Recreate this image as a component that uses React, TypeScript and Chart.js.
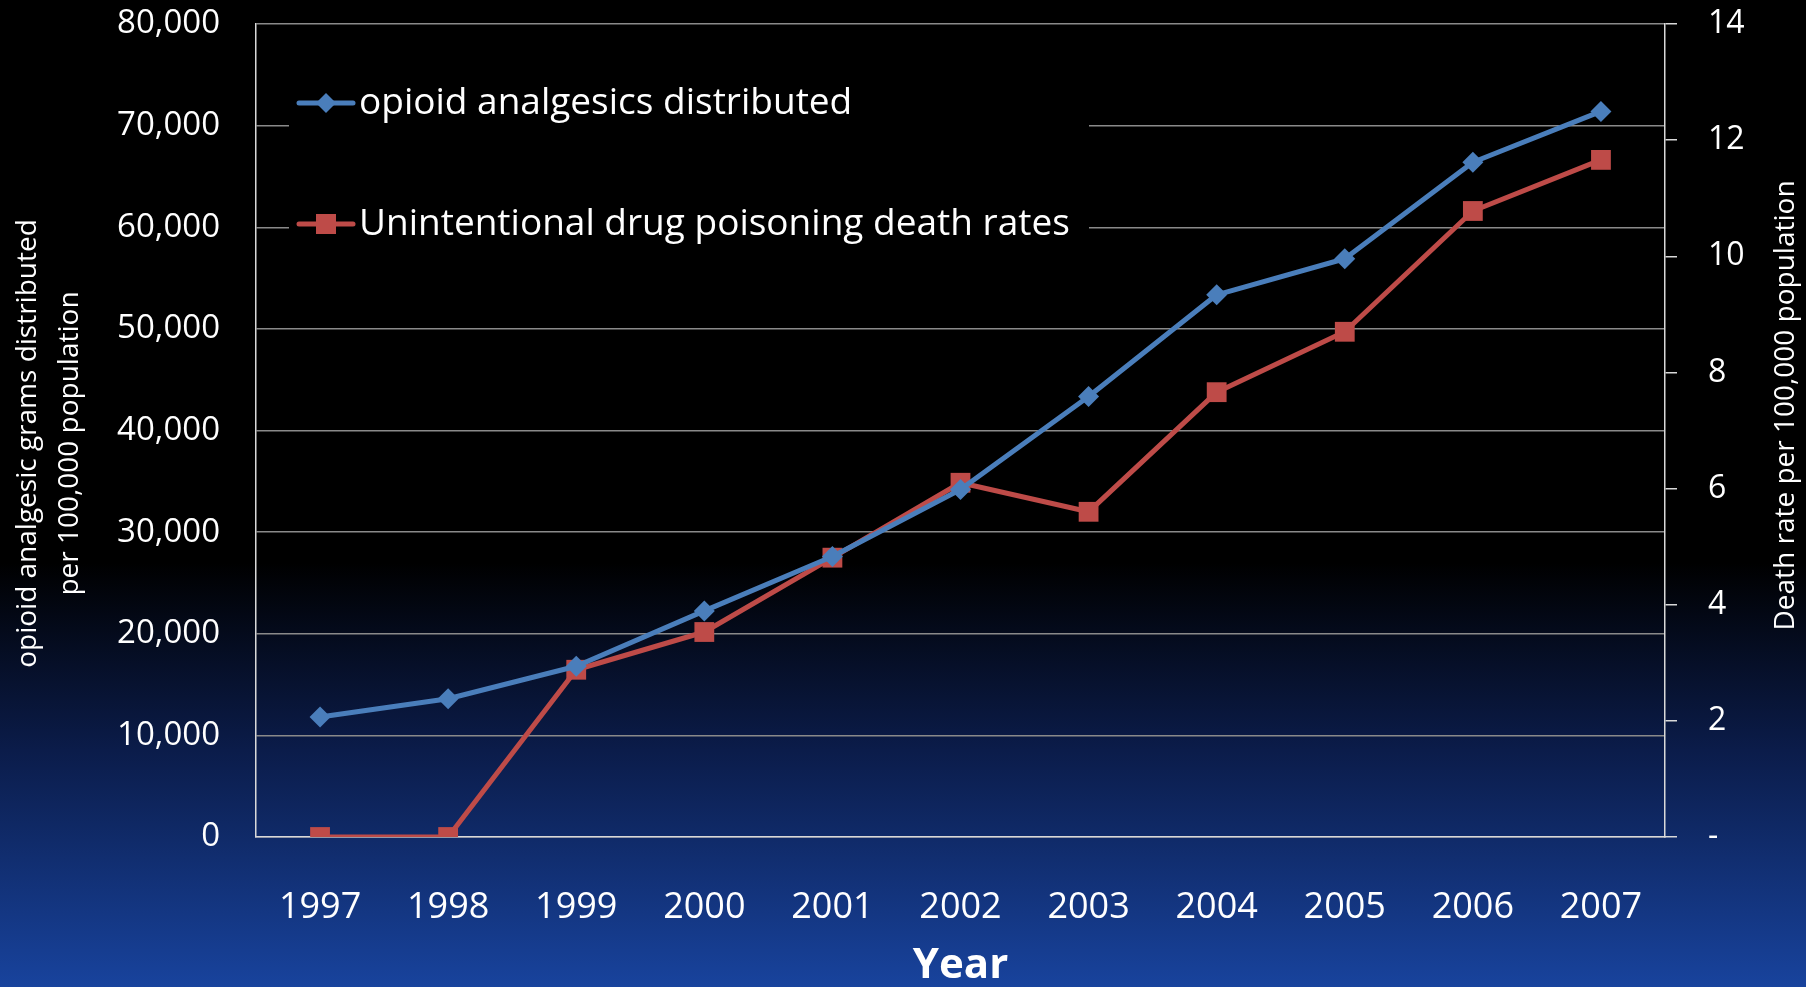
import React, { useEffect, useRef } from 'react';
import { Chart, registerables } from 'chart.js';

Chart.register(...registerables);

const years = ['1997', '1998', '1999', '2000', '2001', '2002', '2003', '2004', '2005', '2006', '2007'];
const opioidGrams = [11800, 13600, 16800, 22250, 27600, 34200, 43350, 53350, 56900, 66400, 71400];
const deathRates = [0, 0, 2.88, 3.53, 4.81, 6.1, 5.6, 7.66, 8.7, 10.78, 11.66];
const seriesNames = ['opioid analgesics distributed', 'Unintentional drug poisoning death rates'];
const leftAxisTitle = ['opioid analgesic grams distributed', 'per 100,000 population'];
const rightAxisTitle = 'Death rate per 100,000 population';
const xAxisTitle = 'Year';
const leftRange = [0, 80000, 10000];
const rightRange = [0, 14, 2];

const FONT = '"Open Sans", sans-serif';
const BLUE = '#4a7ebb';
const RED = '#be4b48';
const GRID = '#8a8a8a';
const AXIS = '#d9d9d9';

const overlayPlugin = {
  id: 'overlay',
  afterDraw(chart: any) {
    const { ctx, chartArea } = chart;
    ctx.save();
    // legend box inside the plot area
    const boxL = chartArea.left + 33;
    const boxT = chartArea.top + 30;
    ctx.fillStyle = '#000';
    ctx.fillRect(boxL, boxT, 800, 220);
    chart.data.datasets.forEach((ds: any, i: number) => {
      const y = chartArea.top + 79 + i * 121;
      const x0 = chartArea.left + 43;
      ctx.strokeStyle = ds.borderColor;
      ctx.lineWidth = 5;
      ctx.lineCap = 'round';
      ctx.beginPath();
      ctx.moveTo(x0, y);
      ctx.lineTo(x0 + 54, y);
      ctx.stroke();
      ctx.fillStyle = ds.backgroundColor;
      const cx = x0 + 27;
      if (ds.pointStyle === 'rectRot') {
        ctx.beginPath();
        ctx.moveTo(cx, y - 10);
        ctx.lineTo(cx + 10, y);
        ctx.lineTo(cx, y + 10);
        ctx.lineTo(cx - 10, y);
        ctx.closePath();
        ctx.fill();
      } else {
        ctx.fillRect(cx - 10, y - 10, 20, 20);
      }
      ctx.fillStyle = '#ffffff';
      ctx.font = `37px ${FONT}`;
      ctx.textBaseline = 'middle';
      ctx.textAlign = 'left';
      ctx.fillText(ds.label, x0 + 60, y);
    });
    const midY = (chartArea.top + chartArea.bottom) / 2;
    ctx.fillStyle = '#ffffff';
    ctx.font = `28px ${FONT}`;
    ctx.textAlign = 'center';
    ctx.textBaseline = 'middle';
    // left axis title (two lines), reading bottom to top
    ctx.save();
    ctx.translate(28, midY + 13);
    ctx.rotate(-Math.PI / 2);
    leftAxisTitle.forEach((line, i) => ctx.fillText(line, 0, i * 42));
    ctx.restore();
    // right axis title, reading bottom to top
    ctx.translate(chart.width - 20, midY - 25);
    ctx.rotate(-Math.PI / 2);
    ctx.fillText(rightAxisTitle, 0, 0);
    ctx.restore();
  },
};

const noVerticalPadding = (s: any) => {
  s.paddingTop = 0;
  s.paddingBottom = 0;
};

export default function App() {
  const ref = useRef<HTMLCanvasElement | null>(null);
  useEffect(() => {
    document.body.style.margin = '0';
    const chart = new Chart(ref.current as HTMLCanvasElement, {
      type: 'line',
      data: {
        labels: years,
        datasets: [
          {
            label: seriesNames[0],
            data: opioidGrams,
            yAxisID: 'y',
            borderColor: BLUE,
            backgroundColor: BLUE,
            borderWidth: 5,
            pointStyle: 'rectRot',
            pointRadius: 10.5,
            pointBorderWidth: 0,
            borderJoinStyle: 'round',
            borderCapStyle: 'round',
            tension: 0,
          },
          {
            label: seriesNames[1],
            data: deathRates,
            yAxisID: 'y2',
            borderColor: RED,
            backgroundColor: RED,
            borderWidth: 5,
            pointStyle: 'rect',
            pointRadius: 14,
            pointBorderWidth: 0,
            borderJoinStyle: 'round',
            borderCapStyle: 'round',
            tension: 0,
          },
        ],
      },
      plugins: [overlayPlugin],
      options: {
        animation: false,
        responsive: false,
        devicePixelRatio: 1,
        layout: { padding: { top: 24, left: 0, right: 0, bottom: 0 } },
        plugins: { legend: { display: false }, tooltip: { enabled: false } },
        scales: {
          x: {
            type: 'category',
            offset: true,
            grid: { display: false, drawTicks: false },
            border: { display: true, color: AXIS, width: 1.5 },
            ticks: { color: '#ffffff', font: { family: FONT, size: 36 }, padding: 49, maxRotation: 0, autoSkip: false },
            title: {
              display: true,
              text: xAxisTitle,
              color: '#ffffff',
              font: { family: FONT, size: 42, weight: 'bold', lineHeight: 1 },
              padding: { top: 0, bottom: 0 },
            },
            afterFit: (s: any) => {
              s.height = 150;
            },
          },
          y: {
            position: 'left',
            min: leftRange[0],
            max: leftRange[1],
            grid: { color: GRID, lineWidth: 1.5, drawTicks: false },
            border: { display: true, color: AXIS, width: 1.5 },
            ticks: {
              stepSize: leftRange[2],
              color: '#ffffff',
              font: { family: FONT, size: 33 },
              padding: 36,
              callback: (v: any) => Number(v).toLocaleString('en-US'),
            },
            afterFit: (s: any) => {
              s.width = 256;
              noVerticalPadding(s);
            },
          },
          y2: {
            position: 'right',
            min: rightRange[0],
            max: rightRange[1],
            grid: { drawOnChartArea: false, drawTicks: true, tickLength: 12, color: AXIS, lineWidth: 1.5 },
            border: { display: true, color: AXIS, width: 1.5 },
            ticks: {
              stepSize: rightRange[2],
              color: '#ffffff',
              font: { family: FONT, size: 32 },
              padding: 31,
              callback: (v: any) => (Number(v) === 0 ? '-' : String(v)),
            },
            afterFit: (s: any) => {
              s.width = 141;
              noVerticalPadding(s);
            },
          },
        },
      },
    } as any);
    return () => chart.destroy();
  }, []);

  return (
    <div
      style={{
        position: 'fixed',
        left: 0,
        top: 0,
        width: 1806,
        height: 987,
        background: 'linear-gradient(to bottom, #000000 0%, #000000 57%, #0b1c4a 76%, #18439d 100%)',
      }}
    >
      <canvas ref={ref} width={1806} height={987} style={{ display: 'block' }} />
    </div>
  );
}
